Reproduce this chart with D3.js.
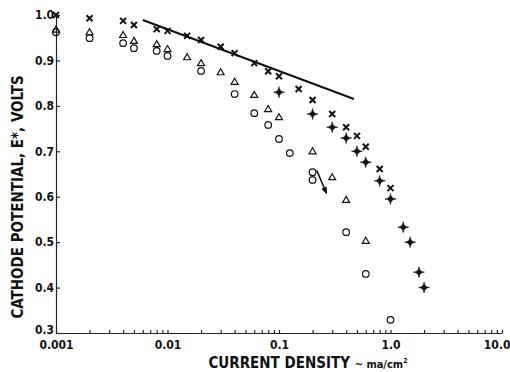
<!DOCTYPE html>
<html>
<head>
<meta charset="utf-8">
<script src="https://cdn.jsdelivr.net/npm/d3@7"></script>
<style>
  body { margin: 0; background: #fff; }
  text { font-family: "Liberation Sans Narrow", "DejaVu Sans Condensed", sans-serif; font-weight: bold; fill: #111; }
</style>
</head>
<body>
<div id="chart"></div>
<script>
var svgWidth = 510;
var svgHeight = 372;

// current density (ma/cm2) and cathode potential (volts) per series
var crossX = [0.001, 0.002, 0.004, 0.005, 0.008, 0.01, 0.015, 0.02, 0.03, 0.04, 0.06, 0.08, 0.1, 0.15, 0.2, 0.3, 0.4, 0.5, 0.6, 0.8, 1.0];
var crossE = [1.0, 0.993, 0.987, 0.978, 0.969, 0.965, 0.954, 0.945, 0.93, 0.916, 0.894, 0.876, 0.865, 0.837, 0.813, 0.782, 0.753, 0.734, 0.71, 0.661, 0.619];

var starX = [0.1, 0.2, 0.3, 0.4, 0.5, 0.6, 0.8, 1.0, 1.3, 1.5, 1.8, 2.0];
var starE = [0.83, 0.782, 0.753, 0.729, 0.70, 0.676, 0.635, 0.595, 0.533, 0.50, 0.434, 0.40];

var triX = [0.001, 0.002, 0.004, 0.005, 0.008, 0.01, 0.015, 0.02, 0.03, 0.04, 0.06, 0.08, 0.1, 0.2, 0.3, 0.4, 0.6];
var triE = [0.968, 0.962, 0.956, 0.943, 0.936, 0.925, 0.907, 0.894, 0.874, 0.853, 0.824, 0.793, 0.775, 0.70, 0.643, 0.593, 0.503];

var circX = [0.001, 0.002, 0.004, 0.005, 0.008, 0.01, 0.02, 0.04, 0.06, 0.08, 0.1, 0.125, 0.2, 0.2, 0.4, 0.6, 1.0];
var circE = [0.962, 0.949, 0.938, 0.927, 0.921, 0.91, 0.877, 0.826, 0.784, 0.758, 0.727, 0.696, 0.654, 0.637, 0.522, 0.43, 0.329];

// straight reference line
var lineX = [0.006, 0.47];
var lineE = [0.989, 0.815];

// arrow near the 0.2 ma/cm2 circles
var arrowX = [0.218, 0.266];
var arrowE = [0.658, 0.608];

var xTickLabels = {0.001: "0.001", 0.01: "0.01", 0.1: "0.1", 1: "1.0", 10: "10.0"};
var yTicks = [0.3, 0.4, 0.5, 0.6, 0.7, 0.8, 0.9, 1.0];

var svg = d3.select("#chart")
  .append("svg")
  .attr("width", svgWidth)
  .attr("height", svgHeight);

var x = d3.scaleLog().domain([0.001, 10]).range([56, 502]);
var y = d3.scaleLinear().domain([0.3, 1.0]).range([333, 15]);

// minor ticks 1..9 in each decade
var xTickVals = [];
[0.001, 0.01, 0.1, 1].forEach(function (d) {
  for (var i = 1; i < 10; i++) xTickVals.push(+(d * i).toPrecision(3));
});
xTickVals.push(10);

var xAxis = svg.append("g")
  .attr("transform", "translate(0," + y(0.3) + ")")
  .call(d3.axisBottom(x)
    .tickValues(xTickVals)
    .tickSizeInner(-3)
    .tickSizeOuter(0)
    .tickPadding(7)
    .tickFormat(function (d) { return xTickLabels[d] || ""; }));

xAxis.selectAll("text").attr("font-size", 12).attr("fill", "#111");
xAxis.selectAll("path, line").attr("stroke", "#222").attr("stroke-width", 1.2);
xAxis.selectAll("text").filter(d => d === 10).attr("text-anchor", "end").attr("dx", 8);

var yAxis = svg.append("g")
  .attr("transform", "translate(" + x(0.001) + ",0)")
  .call(d3.axisLeft(y)
    .tickValues(yTicks)
    .tickSizeInner(-4)
    .tickSizeOuter(0)
    .tickPadding(2)
    .tickFormat(d3.format(".1f")));

yAxis.selectAll("text").attr("font-size", 12).attr("fill", "#111");
yAxis.selectAll("path, line").attr("stroke", "#222").attr("stroke-width", 1.2);
// lift the bottom label a little so it clears "0.001"
yAxis.selectAll("text").filter(d => d === 0.3).attr("y", -3);

// axis titles
svg.append("text")
  .attr("transform", "translate(23," + 197 + ") rotate(-90)")
  .attr("text-anchor", "middle")
  .attr("font-size", 15)
  .text("CATHODE POTENTIAL, E*, VOLTS");

var xt = svg.append("text")
  .attr("x", 308)
  .attr("y", 368)
  .attr("text-anchor", "middle")
  .attr("font-size", 15);
xt.append("tspan").text("CURRENT DENSITY ");
xt.append("tspan").attr("font-size", 11).text("~ ma/cm");
xt.append("tspan").attr("font-size", 7).attr("dy", -5).text("2");

// reference line
var lineData = lineX.map(function (d, i) { return [d, lineE[i]]; });
svg.append("path")
  .attr("d", d3.line().x(d => x(d[0])).y(d => y(d[1]))(lineData))
  .attr("fill", "none")
  .attr("stroke", "#111")
  .attr("stroke-width", 2);

// markers
function pts(xs, es) { return xs.map(function (d, i) { return {x: d, e: es[i]}; }); }

svg.append("g").selectAll("path")
  .data(pts(crossX, crossE))
  .enter()
  .append("path")
  .attr("transform", d => "translate(" + x(d.x) + "," + y(d.e) + ")")
  .attr("d", "M-3,-3L3,3M-3,3L3,-3")
  .attr("stroke", "#111")
  .attr("stroke-width", 2)
  .attr("fill", "none");

var starPath = "M0,-5.5Q0.4,-0.4 5.5,0Q0.4,0.4 0,5.5Q-0.4,0.4 -5.5,0Q-0.4,-0.4 0,-5.5Z";
svg.append("g").selectAll("path")
  .data(pts(starX, starE))
  .enter()
  .append("path")
  .attr("transform", d => "translate(" + x(d.x) + "," + y(d.e) + ")")
  .attr("d", starPath)
  .attr("fill", "#111")
  .attr("stroke", "#111")
  .attr("stroke-width", 0.6);

svg.append("g").selectAll("path")
  .data(pts(triX, triE))
  .enter()
  .append("path")
  .attr("transform", d => "translate(" + x(d.x) + "," + y(d.e) + ")")
  .attr("d", "M0,-3.5L3.5,2.5L-3.5,2.5Z")
  .attr("fill", "none")
  .attr("stroke", "#111")
  .attr("stroke-width", 1.2);

svg.append("g").selectAll("circle")
  .data(pts(circX, circE))
  .enter()
  .append("circle")
  .attr("cx", d => x(d.x))
  .attr("cy", d => y(d.e))
  .attr("r", 3.3)
  .attr("fill", "none")
  .attr("stroke", "#111")
  .attr("stroke-width", 1.2);

// arrow
svg.append("defs").append("marker")
  .attr("id", "head")
  .attr("viewBox", "0 0 10 10")
  .attr("refX", 8).attr("refY", 5)
  .attr("markerWidth", 5).attr("markerHeight", 5)
  .attr("orient", "auto")
  .append("path").attr("d", "M0,1L10,5L0,9Z").attr("fill", "#111");

svg.append("line")
  .attr("x1", x(arrowX[0])).attr("y1", y(arrowE[0]))
  .attr("x2", x(arrowX[1])).attr("y2", y(arrowE[1]))
  .attr("stroke", "#111")
  .attr("stroke-width", 1.5)
  .attr("marker-end", "url(#head)");
</script>
</body>
</html>
